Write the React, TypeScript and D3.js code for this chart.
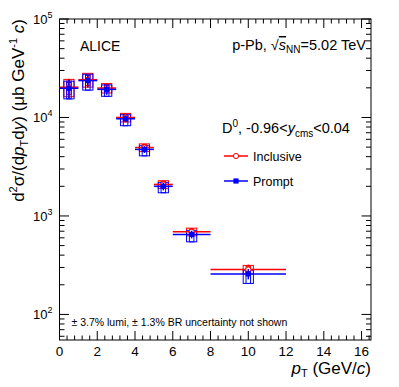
import React from "react";
import * as d3 from "d3";

// pT bins (GeV/c)
const binLo = [0, 1, 2, 3, 4, 5, 6, 8];
const binHi = [1, 2, 3, 4, 5, 6, 8, 12];

// d2sigma/(dpT dy) in mub GeV^-1 c
const inclusive = [20300, 24200, 19900, 10000, 4950, 2090, 690, 286];
const prompt = [19800, 23700, 19300, 9700, 4740, 2000, 650, 258];

// relative uncertainties
const statErr = [0.22, 0.15, 0.12, 0.08, 0.08, 0.09, 0.09, 0.12];
const inclSys = [0.2, 0.16, 0.11, 0.1, 0.09, 0.09, 0.09, 0.1];
const promptSysUp = [0.18, 0.16, 0.11, 0.1, 0.09, 0.09, 0.09, 0.09];
const promptSysDown = [0.22, 0.2, 0.15, 0.15, 0.14, 0.14, 0.16, 0.2];

const xMajor = [0, 2, 4, 6, 8, 10, 12, 14, 16];
const yMajor = [100, 1000, 10000, 100000];

const W = 399;
const H = 387;
const font = "'Liberation Sans', Arial, Helvetica, sans-serif";

export default function App() {
  const left = 59.5, right = 371, top = 19, bottom = 340;
  const x = d3.scaleLinear().domain([0, 16.5]).range([left, right]);
  const y = d3.scaleLog().domain([55, 1e5]).range([bottom, top]);

  const xMinor = d3.range(0, 16.5, 0.4);
  const yMinor: number[] = [];
  for (let d = 1; d <= 4; d++) {
    for (let k = 2; k <= 9; k++) {
      const v = k * Math.pow(10, d);
      if (v >= 55 && v <= 1e5) yMinor.push(v);
    }
  }

  const boxW = 0.27;
  const innerW = 0.12;

  return (
    <svg
      width={W}
      height={H}
      style={{ position: "absolute", left: 0, top: 0, background: "#fff" }}
      fontFamily={font}
    >
      {/* frame */}
      <rect x={left} y={top} width={right - left} height={bottom - top} fill="none" stroke="#000" strokeWidth={1} />

      {/* x ticks (bottom + top) */}
      {xMinor.map((v, i) => {
        const major = xMajor.some((m) => Math.abs(m - v) < 1e-6);
        const len = major ? 9 : 4.5;
        return (
          <g key={"xt" + i} stroke="#000" strokeWidth={1}>
            <line x1={x(v)} x2={x(v)} y1={bottom} y2={bottom - len} />
            <line x1={x(v)} x2={x(v)} y1={top} y2={top + len} />
          </g>
        );
      })}
      {xMajor.map((v) => (
        <text key={"xl" + v} x={x(v)} y={355.5} fontSize={13.5} textAnchor="middle" fill="#000">
          {v}
        </text>
      ))}

      {/* y ticks (left + right) */}
      {yMajor.concat(yMinor).map((v, i) => {
        const len = yMajor.includes(v) ? 9.5 : 5;
        return (
          <g key={"yt" + i} stroke="#000" strokeWidth={1}>
            <line x1={left} x2={left + len} y1={y(v)} y2={y(v)} />
            <line x1={right} x2={right - len} y1={y(v)} y2={y(v)} />
          </g>
        );
      })}
      {yMajor.map((v) => (
        <text key={"yl" + v} x={52.5} y={y(v) + 5} fontSize={13} textAnchor="end" fill="#000">
          10
          <tspan fontSize={9} dy={-6}>
            {Math.round(Math.log10(v))}
          </tspan>
        </text>
      ))}

      {/* axis titles */}
      <text x={371} y={374} fontSize={17} textAnchor="end" fill="#000">
        <tspan fontStyle="italic">p</tspan>
        <tspan fontSize={11} dy={3}>T</tspan>
        <tspan dy={-3}> (GeV/</tspan>
        <tspan fontStyle="italic">c</tspan>
        <tspan>)</tspan>
      </text>
      <text transform="translate(24,19) rotate(-90)" fontSize={17} textAnchor="end" fill="#000">
        <tspan>d</tspan>
        <tspan fontSize={11} dy={-7}>2</tspan>
        <tspan dy={7}>σ/(d</tspan>
        <tspan fontStyle="italic">p</tspan>
        <tspan fontSize={11} dy={4}>T</tspan>
        <tspan dy={-4}>d</tspan>
        <tspan fontStyle="italic">y</tspan>
        <tspan>) (μb GeV</tspan>
        <tspan fontSize={11} dy={-7}>-1</tspan>
        <tspan dy={7}> </tspan>
        <tspan fontStyle="italic">c</tspan>
        <tspan>)</tspan>
      </text>

      {/* systematic boxes */}
      {inclusive.map((v, i) => {
        const xc = (binLo[i] + binHi[i]) / 2;
        const p = prompt[i];
        return (
          <g key={"box" + i} fill="none" strokeWidth={1}>
            <rect
              x={x(xc - boxW)}
              width={x(xc + boxW) - x(xc - boxW)}
              y={y(v * (1 + inclSys[i]))}
              height={y(v * (1 - inclSys[i])) - y(v * (1 + inclSys[i]))}
              stroke="#ff0000"
            />
            <rect
              x={x(xc - innerW)}
              width={x(xc + innerW) - x(xc - innerW)}
              y={y(v * (1 + inclSys[i] * 0.8))}
              height={y(v * (1 - inclSys[i] * 0.8)) - y(v * (1 + inclSys[i] * 0.8))}
              stroke="#ff0000"
            />
            <rect
              x={x(xc - boxW)}
              width={x(xc + boxW) - x(xc - boxW)}
              y={y(p * (1 + promptSysUp[i]))}
              height={y(p * (1 - promptSysDown[i])) - y(p * (1 + promptSysUp[i]))}
              stroke="#0000ff"
            />
            <rect
              x={x(xc - innerW)}
              width={x(xc + innerW) - x(xc - innerW)}
              y={y(p * (1 + promptSysUp[i] * 0.8))}
              height={y(p * (1 - promptSysDown[i])) - y(p * (1 + promptSysUp[i] * 0.8))}
              stroke="#0000ff"
            />
          </g>
        );
      })}

      {/* inclusive: red, open circles */}
      {inclusive.map((v, i) => {
        const xc = (binLo[i] + binHi[i]) / 2;
        return (
          <g key={"inc" + i} stroke="#ff0000" strokeWidth={1.5}>
            <line x1={x(binLo[i])} x2={x(binHi[i])} y1={y(v)} y2={y(v)} />
            <line x1={x(xc)} x2={x(xc)} y1={y(v * (1 + statErr[i]))} y2={y(v * (1 - statErr[i]))} />
            <circle cx={x(xc)} cy={y(v)} r={2.6} fill="#fff" strokeWidth={1} />
          </g>
        );
      })}

      {/* prompt: blue, full squares */}
      {prompt.map((v, i) => {
        const xc = (binLo[i] + binHi[i]) / 2;
        return (
          <g key={"pr" + i} stroke="#0000ff" strokeWidth={1.5}>
            <line x1={x(binLo[i])} x2={x(binHi[i])} y1={y(v)} y2={y(v)} />
            <line x1={x(xc)} x2={x(xc)} y1={y(v * (1 + statErr[i]))} y2={y(v * (1 - statErr[i]))} />
            <rect x={x(xc) - 2.6} y={y(v) - 2.6} width={5.2} height={5.2} fill="#0000ff" stroke="none" />
          </g>
        );
      })}

      {/* labels */}
      <text x={80} y={51} fontSize={14} fill="#000">ALICE</text>
      <text x={366} y={50} fontSize={14.5} textAnchor="end" fill="#000">
        p-Pb, √<tspan style={{ textDecoration: "overline" }} fontStyle="italic">s</tspan>
        <tspan fontSize={10} dy={3}>NN</tspan>
        <tspan dy={-3}>=5.02 TeV</tspan>
      </text>
      <text x={222} y={133} fontSize={14.5} fill="#000">
        D<tspan fontSize={10} dy={-6}>0</tspan>
        <tspan dy={6}>, -0.96&lt;</tspan>
        <tspan fontStyle="italic">y</tspan>
        <tspan fontSize={10} dy={4}>cms</tspan>
        <tspan dy={-4}>&lt;0.04</tspan>
      </text>

      {/* legend */}
      <g stroke="#ff0000" strokeWidth={1.5}>
        <line x1={224} x2={248} y1={156} y2={156} />
        <circle cx={236} cy={156} r={2.6} fill="#fff" strokeWidth={1} />
      </g>
      <text x={253} y={160.5} fontSize={12.5} fill="#000">Inclusive</text>
      <g stroke="#0000ff" strokeWidth={1.5}>
        <line x1={224} x2={248} y1={181} y2={181} />
        <rect x={233.4} y={178.4} width={5.2} height={5.2} fill="#0000ff" stroke="none" />
      </g>
      <text x={253} y={185.5} fontSize={12.5} fill="#000">Prompt</text>

      <text x={71.5} y={326} fontSize={10.5} fill="#000">
        ± 3.7% lumi, ± 1.3% BR uncertainty not shown
      </text>
    </svg>
  );
}
